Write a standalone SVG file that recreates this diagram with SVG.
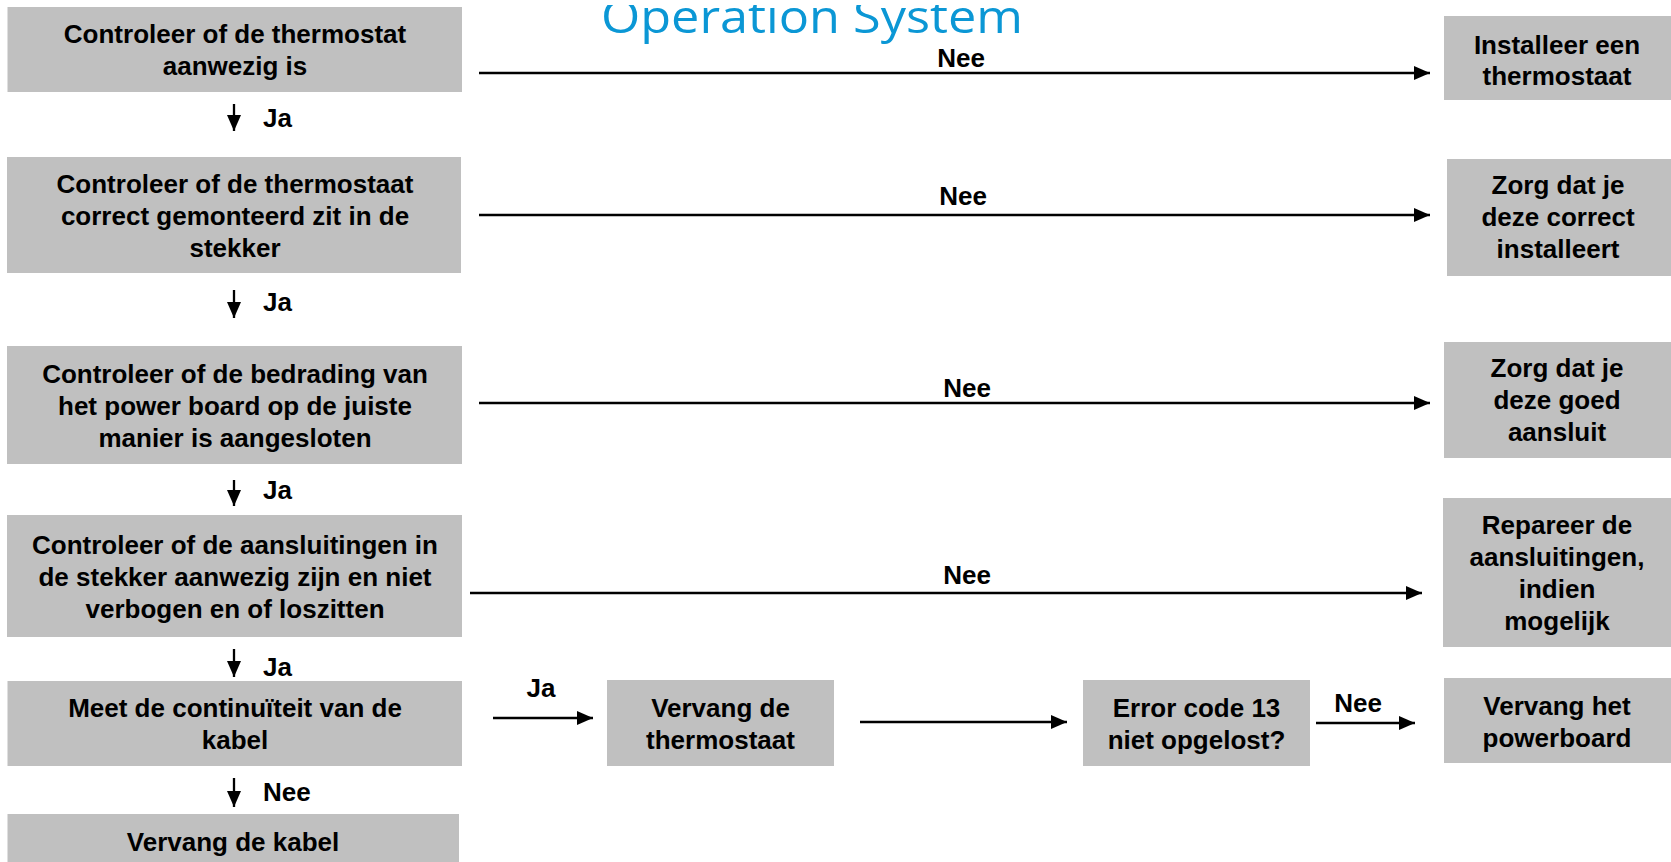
<svg xmlns="http://www.w3.org/2000/svg" width="1671" height="862" viewBox="0 0 1671 862">
<style>
.box{fill:#c0c0c0;}
.t{font-family:"Liberation Sans",Arial,sans-serif;font-weight:bold;font-size:26px;fill:#000;text-anchor:middle;}
.l{font-family:"Liberation Sans",Arial,sans-serif;font-weight:bold;font-size:26px;fill:#000;}
.c{stroke:#000;stroke-width:2.3;fill:none;marker-end:url(#ah);}
.title{font-family:"Open Sans","Noto Sans",sans-serif;font-size:46px;fill:#0b97d5;text-anchor:middle;}
</style>
<defs>
<marker id="ah" markerUnits="userSpaceOnUse" markerWidth="16" markerHeight="14" refX="16" refY="7" orient="auto">
<path d="M0,0 L16,7 L0,14 z" fill="#000"/>
</marker>
<clipPath id="titleclip"><rect x="0" y="5" width="1671" height="60"/></clipPath>
</defs>
<rect width="1671" height="862" fill="#fff"/>
<g id="title" clip-path="url(#titleclip)">
<text class="title" x="812" y="33" textLength="422" lengthAdjust="spacingAndGlyphs">Operation System</text>
</g>

<g id="connectors">
<line class="c" x1="479" y1="73" x2="1430" y2="73"/>
<line class="c" x1="479" y1="215" x2="1430" y2="215"/>
<line class="c" x1="479" y1="403" x2="1430" y2="403"/>
<line class="c" x1="470" y1="593" x2="1422" y2="593"/>
<line class="c" x1="493" y1="718" x2="593" y2="718"/>
<line class="c" x1="860" y1="722" x2="1067" y2="722"/>
<line class="c" x1="1316" y1="723" x2="1415" y2="723"/>
<line class="c" x1="234" y1="104" x2="234" y2="131"/>
<line class="c" x1="234" y1="290" x2="234" y2="318"/>
<line class="c" x1="234" y1="480" x2="234" y2="506"/>
<line class="c" x1="234" y1="649" x2="234" y2="677"/>
<line class="c" x1="234" y1="778" x2="234" y2="807"/>
<text class="t" x="961" y="67">Nee</text>
<text class="t" x="963" y="205">Nee</text>
<text class="t" x="967" y="397">Nee</text>
<text class="t" x="967" y="584">Nee</text>
<text class="t" x="541" y="697">Ja</text>
<text class="t" x="1358" y="712">Nee</text>
<text class="l" x="263" y="127">Ja</text>
<text class="l" x="263" y="311">Ja</text>
<text class="l" x="263" y="499">Ja</text>
<text class="l" x="263" y="676">Ja</text>
<text class="l" x="263" y="801">Nee</text>
</g>

<g id="n1">
<rect class="box" x="7.5" y="7" width="454.5" height="85"/>
<text class="t" x="235" y="43">Controleer of de thermostat</text>
<text class="t" x="235" y="75">aanwezig is</text>
</g>
<g id="n2">
<rect class="box" x="7" y="157" width="454" height="116"/>
<text class="t" x="235" y="193">Controleer of de thermostaat</text>
<text class="t" x="235" y="225">correct gemonteerd zit in de</text>
<text class="t" x="235" y="257">stekker</text>
</g>
<g id="n3">
<rect class="box" x="7" y="346" width="455" height="118"/>
<text class="t" x="235" y="383">Controleer of de bedrading van</text>
<text class="t" x="235" y="415">het power board op de juiste</text>
<text class="t" x="235" y="447">manier is aangesloten</text>
</g>
<g id="n4">
<rect class="box" x="7" y="515" width="455" height="122"/>
<text class="t" x="235" y="554">Controleer of de aansluitingen in</text>
<text class="t" x="235" y="586">de stekker aanwezig zijn en niet</text>
<text class="t" x="235" y="618">verbogen en of loszitten</text>
</g>
<g id="n5">
<rect class="box" x="7.5" y="681" width="454.5" height="85"/>
<text class="t" x="235" y="717">Meet de continuïteit van de</text>
<text class="t" x="235" y="749">kabel</text>
</g>
<g id="n6">
<rect class="box" x="7.5" y="814" width="451.5" height="48"/>
<text class="t" x="233" y="851">Vervang de kabel</text>
</g>
<g id="r1">
<rect class="box" x="1444" y="16" width="227" height="84"/>
<text class="t" x="1557" y="54">Installeer een</text>
<text class="t" x="1557" y="85">thermostaat</text>
</g>
<g id="r2">
<rect class="box" x="1447" y="159" width="224" height="117"/>
<text class="t" x="1558" y="194">Zorg dat je</text>
<text class="t" x="1558" y="226">deze correct</text>
<text class="t" x="1558" y="258">installeert</text>
</g>
<g id="r3">
<rect class="box" x="1444" y="342" width="227" height="116"/>
<text class="t" x="1557" y="377">Zorg dat je</text>
<text class="t" x="1557" y="409">deze goed</text>
<text class="t" x="1557" y="441">aansluit</text>
</g>
<g id="r4">
<rect class="box" x="1443" y="498" width="228" height="149"/>
<text class="t" x="1557" y="534">Repareer de</text>
<text class="t" x="1557" y="566">aansluitingen,</text>
<text class="t" x="1557" y="598">indien</text>
<text class="t" x="1557" y="630">mogelijk</text>
</g>
<g id="r5">
<rect class="box" x="1444" y="678" width="227" height="85"/>
<text class="t" x="1557" y="715">Vervang het</text>
<text class="t" x="1557" y="747">powerboard</text>
</g>
<g id="m1">
<rect class="box" x="607" y="680" width="227" height="86"/>
<text class="t" x="720.5" y="717">Vervang de</text>
<text class="t" x="720.5" y="749">thermostaat</text>
</g>
<g id="m2">
<rect class="box" x="1083" y="680" width="227" height="86"/>
<text class="t" x="1196.5" y="717">Error code 13</text>
<text class="t" x="1196.5" y="749">niet opgelost?</text>
</g>
</svg>
